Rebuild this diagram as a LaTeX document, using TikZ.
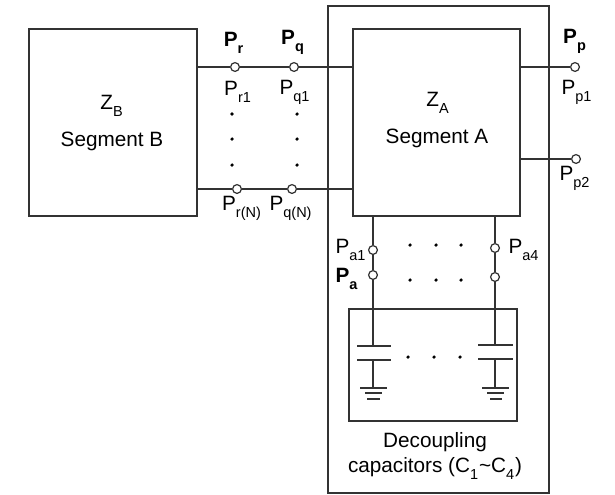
\documentclass[tikz,border=0pt]{standalone}
\usepackage{fontspec}
\setmainfont{Liberation Sans}
\colorlet{linecol}{black!80}
\newcommand{\lsub}[1]{\raisebox{-0.35ex}{\textsubscript{#1}}}
\tikzset{
	box/.style = {draw=linecol, line width=1pt, inner sep=0pt, align=center},
	term/.style = {circle, draw=linecol, fill=white, line width=0.7pt, inner sep=0pt, minimum size=5pt},
	dotmark/.style = {circle, fill=black, inner sep=0pt, minimum size=2pt},
	lab/.style = {inner sep=0pt, font=\fontsize{11.8pt}{14pt}\selectfont},
	wire/.style = {draw=linecol, line width=0.7pt},
	plate/.style = {draw=linecol, line width=0.8pt}
}

\begin{document}
\begin{tikzpicture}[x=0.02cm, y=-0.02cm]
		\useasboundingbox (0,0) rectangle (615,494);
		% boxes
		\node[box, minimum width=4.41cm, minimum height=9.74cm] (outer) at (438.5,249.5) {};
		\node[box, minimum width=3.36cm, minimum height=3.74cm] (segB) at (113,122.5) {};
		\node[box, minimum width=3.34cm, minimum height=3.74cm] (segA) at (436.5,122.5) {};
		\node[box, minimum width=3.36cm, minimum height=2.24cm] (capbox) at (433,365) {};
		% terminals
		\begin{scope}[every node/.style = {term}]
			\node (Pr1) at (235,67) {};
			\node (Pq1) at (294,67) {};
			\node (PrN) at (237,189) {};
			\node (PqN) at (292,189) {};
			\node (Pp1) at (575,67) {};
			\node (Pp2) at (576,159) {};
			\node (Pa1) at (373,250) {};
			\node (Pa) at (373,275) {};
			\node (Pa4) at (495,248) {};
			\node (Pa5) at (495,277) {};
		\end{scope}
		% free ends on the boxes
		\coordinate (B1) at (197,67);
		\coordinate (B2) at (197,189);
		\coordinate (A1) at (353,67);
		\coordinate (A2) at (353,189);
		\coordinate (A3) at (520,67);
		\coordinate (A4) at (520,159);
		\coordinate (A5) at (373,216);
		\coordinate (A6) at (495,216);
		% plates
		\coordinate (L1a) at (357,346);
		\coordinate (L1b) at (391,346);
		\coordinate (L1) at (373,346);
		\coordinate (L2a) at (357,360);
		\coordinate (L2b) at (391,360);
		\coordinate (L2) at (373,360);
		\coordinate (R1a) at (478,345);
		\coordinate (R1b) at (513,345);
		\coordinate (R1) at (495,345);
		\coordinate (R2a) at (478,359);
		\coordinate (R2b) at (513,359);
		\coordinate (R2) at (495,359);
		% grounds
		\coordinate (LG) at (373,388);
		\coordinate (RG) at (495,388);
		\foreach \name/\xa/\xb/\y in {La/360/387/388, Lb/365/382/393, Lc/367/380/399, Ra/482/509/388, Rb/487/504/393, Rc/490/502/399} {
			\coordinate (\name w) at (\xa,\y);
			\coordinate (\name e) at (\xb,\y);
			\draw[plate] (\name w) -- (\name e);
		}
		\begin{scope}[every path/.style = {wire}]
			\path (B1) edge (Pr1);
			\path (Pr1) edge (Pq1);
			\path (Pq1) edge (A1);
			\path (B2) edge (PrN);
			\path (PrN) edge (PqN);
			\path (PqN) edge (A2);
			\path (A3) edge (Pp1);
			\path (A4) edge (Pp2);
			\path (A5) edge (Pa1);
			\path (Pa1) edge (Pa);
			\path (Pa) edge (L1);
			\path (A6) edge (Pa4);
			\path (Pa4) edge (Pa5);
			\path (Pa5) edge (R1);
			\path (L2) edge (LG);
			\path (R2) edge (RG);
		\end{scope}
		\draw[plate] (L1a) -- (L1b);
		\draw[plate] (L2a) -- (L2b);
		\draw[plate] (R1a) -- (R1b);
		\draw[plate] (R2a) -- (R2b);
		% dots
		\foreach \x/\y [count=\i] in {232/114, 232/139, 232/165, 297/114, 297/139, 297/165,
			410/245, 436/245, 461/245, 410/280, 436/280, 461/280, 408/357, 434/357, 460/357} {
			\node[dotmark] (dot\i) at (\x,\y) {};
		}
		% labels
		\begin{scope}[every node/.style = {lab}]
			\node (ZB) at (112,106) {Z\lsub{B}};
			\node (nameB) at (112,141) {Segment B};
			\node (ZA) at (438,103) {Z\lsub{A}};
			\node (nameA) at (437,138) {Segment A};
			\node (deco) at (435,442) {Decoupling};
			\node (capname) at (435,468) {capacitors (C\lsub{1}\textasciitilde C\lsub{4})};
			\node (tPr) at (234,43) {\textbf{P\lsub{r}}};
			\node (tPq) at (293,42) {\textbf{P\lsub{q}}};
			\node (tPp) at (575,41) {\textbf{P\lsub{p}}};
			\node (tPa) at (347,279) {\textbf{P\lsub{a}}};
			\node (tPr1) at (238,92) {P\lsub{r1}};
			\node (tPq1) at (295,92) {P\lsub{q1}};
			\node (tPp1) at (577,92) {P\lsub{p1}};
			\node (tPp2) at (575,178) {P\lsub{p2}};
			\node (tPrN) at (242,208) {P\lsub{r(N)}};
			\node (tPqN) at (291,208) {P\lsub{q(N)}};
			\node (tPa1) at (351,250) {P\lsub{a1}};
			\node (tPa4) at (524,250) {P\lsub{a4}};
		\end{scope}
	\end{tikzpicture}
\end{document}
